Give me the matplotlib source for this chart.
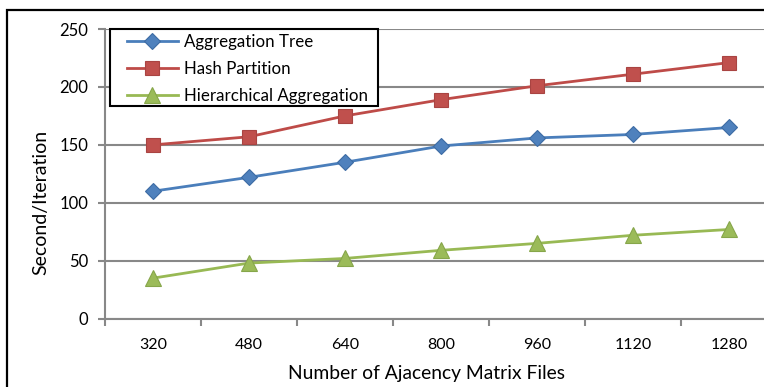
import matplotlib
matplotlib.use("Agg")
import matplotlib.pyplot as plt
from matplotlib.patches import Rectangle

categories = ["320", "480", "640", "800", "960", "1120", "1280"]
aggregation_tree = [110, 122, 135, 149, 156, 159, 165]
hash_partition = [150, 157, 175, 189, 201, 211, 221]
hierarchical_agg = [35, 48, 52, 59, 65, 72, 77]
y_ticks = [0, 50, 100, 150, 200, 250]

plt.rcParams["font.family"] = ["Lato", "DejaVu Sans"]

W, H = 764, 387
fig = plt.figure(figsize=(W / 100, H / 100), dpi=100)
ax = fig.add_axes([105 / W, 68.3 / H, 672 / W, 289.7 / H])

x = list(range(len(categories)))

series = [
    (aggregation_tree, "Aggregation Tree", "#4A7EBB", "D", 8.2, "#4F81BD", "#3D6CA4"),
    (hash_partition, "Hash Partition", "#BE4B48", "s", 9.5, "#C0504D", "#A94442"),
    (hierarchical_agg, "Hierarchical Aggregation", "#98B954", "^", 11.5, "#9BBB59", "#86A64A"),
]
for vals, label, lc, mk, ms, mfc, mec in series:
    ax.plot(x, vals, color=lc, lw=2.0, marker=mk, markersize=ms,
            markerfacecolor=mfc, markeredgecolor=mec, markeredgewidth=0.8,
            label=label, zorder=3)

ax.set_xlim(-0.5, len(categories) - 0.5)
ax.set_ylim(0, 250)
ax.set_yticks(y_ticks)
ax.set_xticks(x)
ax.set_xticklabels(categories)
ax.set_xticks([i - 0.5 for i in range(len(categories) + 1)], minor=True)

ax.grid(axis="y", color="#888888", lw=1.5)
ax.set_axisbelow(True)
for s in ["top", "right"]:
    ax.spines[s].set_visible(False)
for s in ["left", "bottom"]:
    ax.spines[s].set_color("#888888")
    ax.spines[s].set_linewidth(1.5)

ax.tick_params(axis="x", which="major", length=0, pad=14, labelsize=11.5)
ax.tick_params(axis="x", which="minor", length=5, width=1.5, color="#888888", direction="out")
ax.tick_params(axis="y", length=5, width=1.5, color="#888888", pad=7, labelsize=12)

ax.set_xlabel("Number of Ajacency Matrix Files", fontsize=13.9, va="center")
ax.xaxis.set_label_coords(0.478, -0.188, transform=ax.transAxes)
ax.set_ylabel("Second/Iteration", fontsize=14, va="center")
ax.yaxis.set_label_coords(-0.095, 0.401, transform=ax.transAxes)

# legend box with white fill
fig.add_artist(Rectangle((110 / W, 1 - 106 / H), 268 / W, 77 / H,
                         transform=fig.transFigure, facecolor="white",
                         edgecolor="black", lw=1.5, zorder=4))
leg = fig.legend(loc="upper left", bbox_to_anchor=(127 / W, 1 - 34 / H), fontsize=12.2,
                 frameon=False, borderpad=0, labelspacing=0.64,
                 handlelength=3.0, handletextpad=0.35, borderaxespad=0)
leg.set_zorder(5)

# outer chart border
fig.add_artist(Rectangle((7 / W, -0.2), 1.5, 1.2 - 10 / H,
                         transform=fig.transFigure, fill=False,
                         edgecolor="black", lw=1.6, clip_on=False))

fig.savefig("out.png", dpi=100)
